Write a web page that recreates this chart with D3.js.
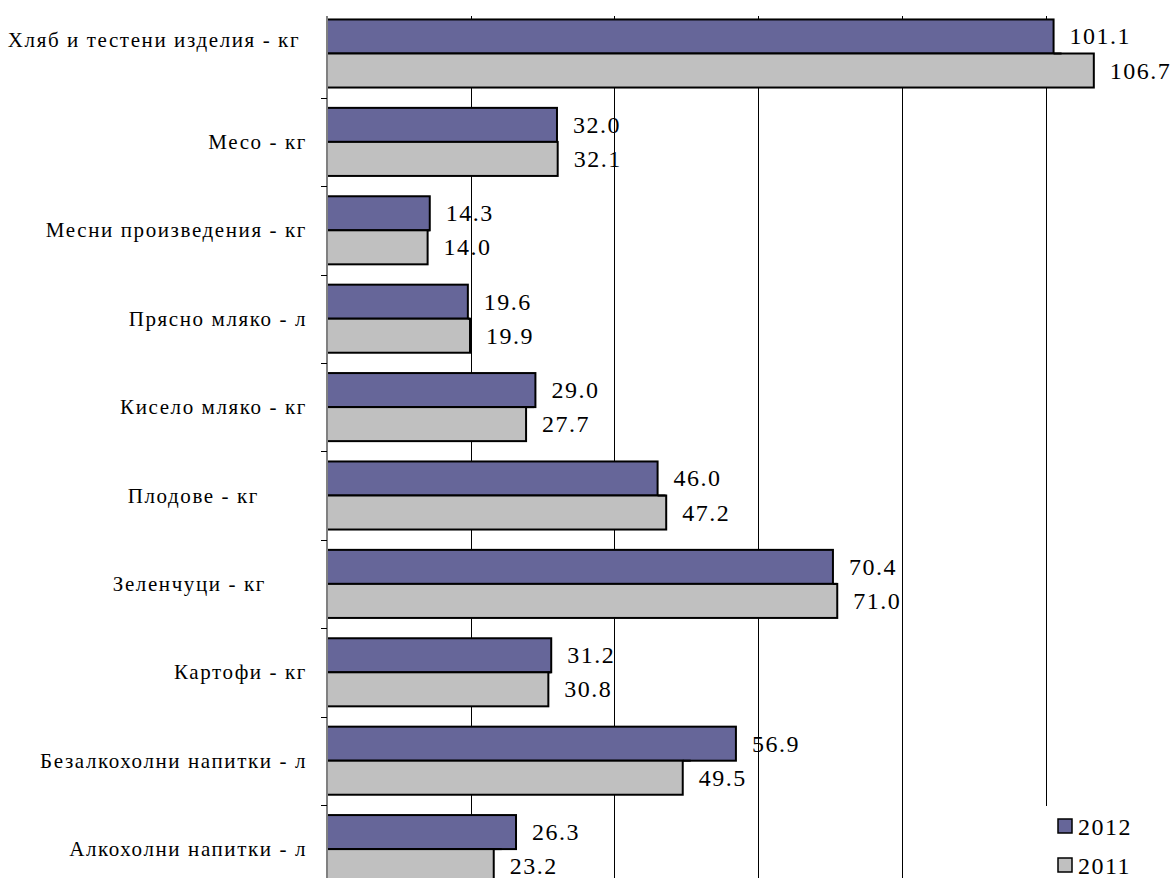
<!DOCTYPE html>
<html>
<head>
	<meta http-equiv="Content-Type" content="text/html; charset=utf-8">
	<title>Потребление</title>
	<script src="https://d3js.org/d3.v7.min.js"></script>
	<style>
		body { margin: 0; background: #fff; }
		svg { display: block; }
	</style>
</head>
<body>
<script>
	// categories (trailing spaces kept as in the original labels)
	var categories = [
		"Хляб и тестени изделия - кг\u00a0",
		"Месо - кг",
		"Месни произведения - кг",
		"Прясно мляко - л",
		"Кисело мляко - кг",
		"Плодове - кг\u00a0\u00a0\u00a0\u00a0\u00a0\u00a0\u00a0",
		"Зеленчуци - кг\u00a0\u00a0\u00a0\u00a0\u00a0\u00a0",
		"Картофи - кг",
		"Безалкохолни напитки - л",
		"Алкохолни напитки - л"
	];
	var values2012 = [101.1, 32.0, 14.3, 19.6, 29.0, 46.0, 70.4, 31.2, 56.9, 26.3];
	var values2011 = [106.7, 32.1, 14.0, 19.9, 27.7, 47.2, 71.0, 30.8, 49.5, 23.2];
	var seriesNames = ["2012", "2011"];
	var seriesColors = ["#666699", "#c0c0c0"];
	var gridTicks = [20, 40, 60, 80, 100];

	var width = 1173, height = 878;
	var plotTop = 16, axisX = 327;
	var serif = "Liberation Serif";

	var svg = d3.select("body").append("svg")
			.attr("width", width)
			.attr("height", height);

	var x = d3.scaleLinear()
			.domain([0, 120])
			.range([axisX, axisX + 862.4]);

	var y = d3.scaleBand()
			.domain(categories)
			.range([9.3, 9.3 + 884])
			.paddingInner(0.23)
			.paddingOuter(0.115);

	var ySeries = d3.scaleBand()
			.domain(seriesNames)
			.range([0, y.bandwidth()]);

	var rows = categories.map(function(c, i) {
		return {cat: c, i: i, values: [values2012[i], values2011[i]]};
	});

	// gridlines
	svg.append("g").selectAll("line")
			.data(gridTicks)
			.enter()
			.append("line")
			.attr("x1", function(d) { return Math.round(x(d)) + 0.5; })
			.attr("x2", function(d) { return Math.round(x(d)) + 0.5; })
			.attr("y1", plotTop)
			.attr("y2", height)
			.attr("stroke", "#000")
			.attr("stroke-width", 1);

	// bars
	var group = svg.append("g").selectAll(".grp")
			.data(rows)
			.enter()
			.append("g")
			.attr("class", "grp")
			.attr("transform", function(d) { return "translate(0," + y(d.cat) + ")"; });

	group.selectAll("rect")
			.data(function(d) {
				return d.values.map(function(v, k) { return {v: v, s: seriesNames[k], k: k}; });
			})
			.enter()
			.append("rect")
			.attr("x", x(0))
			.attr("y", function(d) { return ySeries(d.s); })
			.attr("width", function(d) { return x(d.v) - x(0); })
			.attr("height", ySeries.bandwidth())
			.attr("fill", function(d) { return seriesColors[d.k]; })
			.attr("stroke", "#000")
			.attr("stroke-width", 2);

	// little edge where the two bars meet
	group.append("line")
			.attr("x1", function(d) { return x(d3.min(d.values)); })
			.attr("x2", function(d) { return Math.min(x(d3.min(d.values)) + 8, x(d3.max(d.values))); })
			.attr("y1", ySeries.bandwidth())
			.attr("y2", ySeries.bandwidth())
			.attr("stroke", "#000")
			.attr("stroke-width", 2);

	// value labels
	group.selectAll(".val-label")
			.data(function(d) {
				return d.values.map(function(v, k) { return {v: v, s: seriesNames[k]}; });
			})
			.enter()
			.append("text")
			.attr("class", "val-label")
			.attr("font-family", serif)
			.attr("font-size", 24)
			.attr("letter-spacing", 1.5)
			.attr("x", function(d) { return x(d.v) + 16; })
			.attr("y", function(d) { return ySeries(d.s) + ySeries.bandwidth() / 2 + 8; })
			.text(function(d) { return d3.format(".1f")(d.v); });

	// category axis
	svg.append("line")
			.attr("x1", axisX).attr("x2", axisX)
			.attr("y1", plotTop).attr("y2", height)
			.attr("stroke", "#808080")
			.attr("stroke-width", 2);

	var gap = y.step() - y.bandwidth();
	svg.append("g").selectAll("line")
			.data(categories)
			.enter()
			.append("line")
			.attr("x1", axisX - 6).attr("x2", axisX)
			.attr("y1", function(d) { return Math.round(y(d) + y.bandwidth() + gap / 2) + 0.5; })
			.attr("y2", function(d) { return Math.round(y(d) + y.bandwidth() + gap / 2) + 0.5; })
			.attr("stroke", "#000")
			.attr("stroke-width", 1);

	svg.append("g").selectAll(".cat-label")
			.data(categories)
			.enter()
			.append("text")
			.attr("class", "cat-label")
			.attr("font-family", serif)
			.attr("font-size", 21)
			.attr("letter-spacing", 1.6)
			.style("white-space", "pre")
			.attr("x", 307)
			.attr("y", function(d, i) {
				// the first label sits higher in the original
				return y(d) + y.bandwidth() / 2 + 7 - (i === 0 ? 14 : 0);
			})
			.attr("text-anchor", "end")
			.text(function(d) { return d; });

	// legend
	var legend = svg.append("g").attr("class", "legend");
	legend.append("rect")
			.attr("x", 1040).attr("y", 806)
			.attr("width", 133).attr("height", 72)
			.attr("fill", "#fff");

	var item = legend.selectAll(".item")
			.data(seriesNames)
			.enter()
			.append("g")
			.attr("class", "item")
			.attr("transform", function(d, i) { return "translate(1058," + (819 + i * 39) + ")"; });

	item.append("rect")
			.attr("width", 14).attr("height", 14)
			.attr("fill", function(d, i) { return seriesColors[i]; })
			.attr("stroke", "#000")
			.attr("stroke-width", 1.5);

	item.append("text")
			.attr("font-family", serif)
			.attr("font-size", 24)
			.attr("letter-spacing", 1.5)
			.attr("x", 20)
			.attr("y", 16)
			.text(function(d) { return d; });
</script>
</body>
</html>
